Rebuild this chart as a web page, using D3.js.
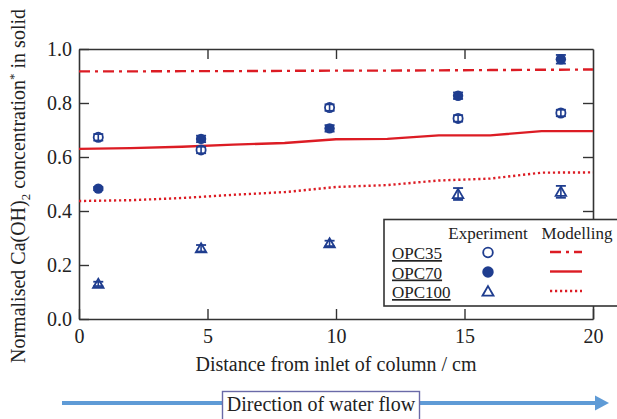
<!DOCTYPE html>
<html>
<head>
<meta charset="utf-8">
<script src="https://cdn.jsdelivr.net/npm/d3@7"></script>
<style>
  html, body { margin: 0; padding: 0; background: #fff; }
  svg { display: block; font-family: "Liberation Serif", "Times New Roman", serif; }
</style>
</head>
<body>
<div id="chart"></div>
<script>
// Measured points (distance from inlet, cm)
const distance = [0.75, 4.75, 9.75, 14.75, 18.75];
const opc35 = [0.673, 0.626, 0.783, 0.743, 0.763];
const opc35Err = [0.012, 0.012, 0.012, 0.012, 0.012];
const opc70 = [0.483, 0.667, 0.706, 0.827, 0.962];
const opc70Err = [0.006, 0.012, 0.012, 0.012, 0.016];
const opc100 = [0.130, 0.262, 0.280, 0.463, 0.471];
const opc100Err = [0.008, 0.012, 0.010, 0.022, 0.022];

// Modelled profiles
const modelDistance = [0, 2, 4, 6, 8, 10, 12, 14, 16, 18, 20];
const model35 = [0.917, 0.917, 0.918, 0.918, 0.919, 0.920, 0.920, 0.921, 0.922, 0.923, 0.924];
const model70 = [0.630, 0.633, 0.638, 0.646, 0.652, 0.666, 0.667, 0.680, 0.680, 0.696, 0.696];
const model100 = [0.437, 0.440, 0.448, 0.460, 0.470, 0.489, 0.496, 0.513, 0.520, 0.542, 0.543];

const xTicks = [0, 5, 10, 15, 20];
const yTicks = [0, 0.2, 0.4, 0.6, 0.8, 1.0];
const seriesNames = ["OPC35", "OPC70", "OPC100"];

const width = 617, height = 419;
const plot = { left: 79, right: 593, top: 49, bottom: 319 };
const red = "#dc1c24", blue = "#1f3d8f", axisColor = "#333";
const dashStyles = ["11,5,3,5", null, "2.2,2.8"];

const svg = d3.select("#chart").append("svg")
    .attr("width", width)
    .attr("height", height);

svg.append("rect").attr("width", width).attr("height", height).attr("fill", "#fff");

const x = d3.scaleLinear().domain([0, 20]).range([plot.left, plot.right]);
const y = d3.scaleLinear().domain([0, 1]).range([plot.bottom, plot.top]);

// Axes, ticks pointing inward on all four sides
function styleAxis(g) {
    g.select(".domain").attr("stroke", axisColor).attr("stroke-width", 1.6);
    g.selectAll(".tick line").attr("stroke", axisColor).attr("stroke-width", 1.4);
    g.selectAll(".tick text").attr("fill", "#222").style("font-size", "20px")
        .style("font-family", "Liberation Serif, serif");
}

svg.append("g")
    .attr("transform", `translate(0,${plot.bottom})`)
    .call(d3.axisBottom(x).tickValues(xTicks).tickFormat(d3.format("d"))
        .tickSizeInner(-10).tickSizeOuter(0).tickPadding(10))
    .call(styleAxis);

svg.append("g")
    .attr("transform", `translate(${plot.left},0)`)
    .call(d3.axisLeft(y).tickValues(yTicks).tickFormat(d3.format(".1f"))
        .tickSizeInner(-10).tickSizeOuter(0).tickPadding(7))
    .call(styleAxis);

svg.append("g")
    .attr("transform", `translate(0,${plot.top})`)
    .call(d3.axisTop(x).tickValues(xTicks.slice(1, -1)).tickFormat("")
        .tickSizeInner(-10).tickSizeOuter(0))
    .call(styleAxis);

svg.append("g")
    .attr("transform", `translate(${plot.right},0)`)
    .call(d3.axisRight(y).tickValues(yTicks.slice(1, -1)).tickFormat("")
        .tickSizeInner(-10).tickSizeOuter(0))
    .call(styleAxis);

// Model lines
const line = d3.line()
    .x((d, i) => x(modelDistance[i]))
    .y(d => y(d));

[model35, model70, model100].forEach((m, k) => {
    svg.append("path")
        .datum(m)
        .attr("d", line)
        .attr("fill", "none")
        .attr("stroke", red)
        .attr("stroke-width", 2.4)
        .attr("stroke-dasharray", dashStyles[k]);
});

// Experimental points with error bars
const experiments = [
    { values: opc35, err: opc35Err, shape: "open" },
    { values: opc70, err: opc70Err, shape: "filled" },
    { values: opc100, err: opc100Err, shape: "triangle" }
];

function drawMarker(g, shape, cx, cy, scale) {
    const s = scale || 1;
    if (shape === "open") {
        g.append("circle").attr("cx", cx).attr("cy", cy).attr("r", 4.6 * s)
            .attr("fill", "#fff").attr("stroke", blue).attr("stroke-width", 1.8);
    } else if (shape === "filled") {
        g.append("circle").attr("cx", cx).attr("cy", cy).attr("r", 5.2 * s)
            .attr("fill", blue);
    } else {
        const sym = d3.symbol().type(d3.symbolTriangle).size(48 * s * s);
        g.append("path").attr("d", sym)
            .attr("transform", `translate(${cx},${cy + 1})`)
            .attr("fill", "#fff").attr("stroke", blue).attr("stroke-width", 1.8);
    }
}

experiments.forEach(ex => {
    const g = svg.append("g");
    ex.values.forEach((v, i) => {
        const cx = x(distance[i]);
        const y0 = y(v - ex.err[i]), y1 = y(v + ex.err[i]);
        drawMarker(g, ex.shape, cx, y(v));
        g.append("line").attr("x1", cx).attr("x2", cx).attr("y1", y0).attr("y2", y1)
            .attr("stroke", blue).attr("stroke-width", 1.6);
        [y0, y1].forEach(yy => g.append("line")
            .attr("x1", cx - 5).attr("x2", cx + 5).attr("y1", yy).attr("y2", yy)
            .attr("stroke", blue).attr("stroke-width", 1.8));
    });
});

// Axis titles
svg.append("text")
    .attr("x", (plot.left + plot.right) / 2)
    .attr("y", 371)
    .attr("text-anchor", "middle")
    .style("font-size", "20px")
    .attr("fill", "#222")
    .text("Distance from inlet of column / cm");

const yTitle = svg.append("text")
    .attr("transform", "translate(25,186) rotate(-90)")
    .attr("text-anchor", "middle")
    .style("font-size", "20px")
    .attr("fill", "#222");
yTitle.append("tspan").text("Normalised Ca(OH)");
yTitle.append("tspan").attr("dy", 5).style("font-size", "13px").text("2");
yTitle.append("tspan").attr("dy", -5).text(" concentration");
yTitle.append("tspan").attr("dy", -7).style("font-size", "13px").text("*");
yTitle.append("tspan").attr("dy", 7).text(" in solid");

// Legend
const legend = svg.append("g");
legend.append("rect")
    .attr("x", 384).attr("y", 219.5).attr("width", 250).attr("height", 86.5)
    .attr("fill", "#fff").attr("stroke", axisColor).attr("stroke-width", 1.6);
legend.append("text").attr("x", 488).attr("y", 239).attr("text-anchor", "middle")
    .style("font-size", "17px").attr("fill", "#222").text("Experiment");
legend.append("text").attr("x", 577).attr("y", 239).attr("text-anchor", "middle")
    .style("font-size", "17px").attr("fill", "#222").text("Modelling");

seriesNames.forEach((name, k) => {
    const base = 259 + k * 19.5;
    legend.append("text").attr("x", 392).attr("y", base)
        .style("font-size", "17px").style("text-decoration", "underline")
        .attr("fill", "#222").text(name);
    drawMarker(legend, experiments[k].shape, 488, base - 6.5, k === 1 ? 1.1 : 1.05);
    legend.append("line")
        .attr("x1", 550).attr("x2", 582).attr("y1", base - 7).attr("y2", base - 7)
        .attr("stroke", red).attr("stroke-width", 2.4)
        .attr("stroke-dasharray", dashStyles[k]);
});

// Flow direction arrow
const flowY = 403;
svg.append("line")
    .attr("x1", 62).attr("x2", 597).attr("y1", flowY).attr("y2", flowY)
    .attr("stroke", "#5f9bd6").attr("stroke-width", 4);
svg.append("path")
    .attr("d", `M595,${flowY - 7.5}L609,${flowY}L595,${flowY + 7.5}Z`)
    .attr("fill", "#5f9bd6");
svg.append("rect")
    .attr("x", 222.5).attr("y", 391.5).attr("width", 197).attr("height", 40)
    .attr("fill", "#fff").attr("stroke", "#6a6aa8").attr("stroke-width", 1.4);
svg.append("text")
    .attr("x", 321).attr("y", 411)
    .attr("text-anchor", "middle")
    .style("font-size", "20px")
    .attr("fill", "#222")
    .text("Direction of water flow");
</script>
</body>
</html>
